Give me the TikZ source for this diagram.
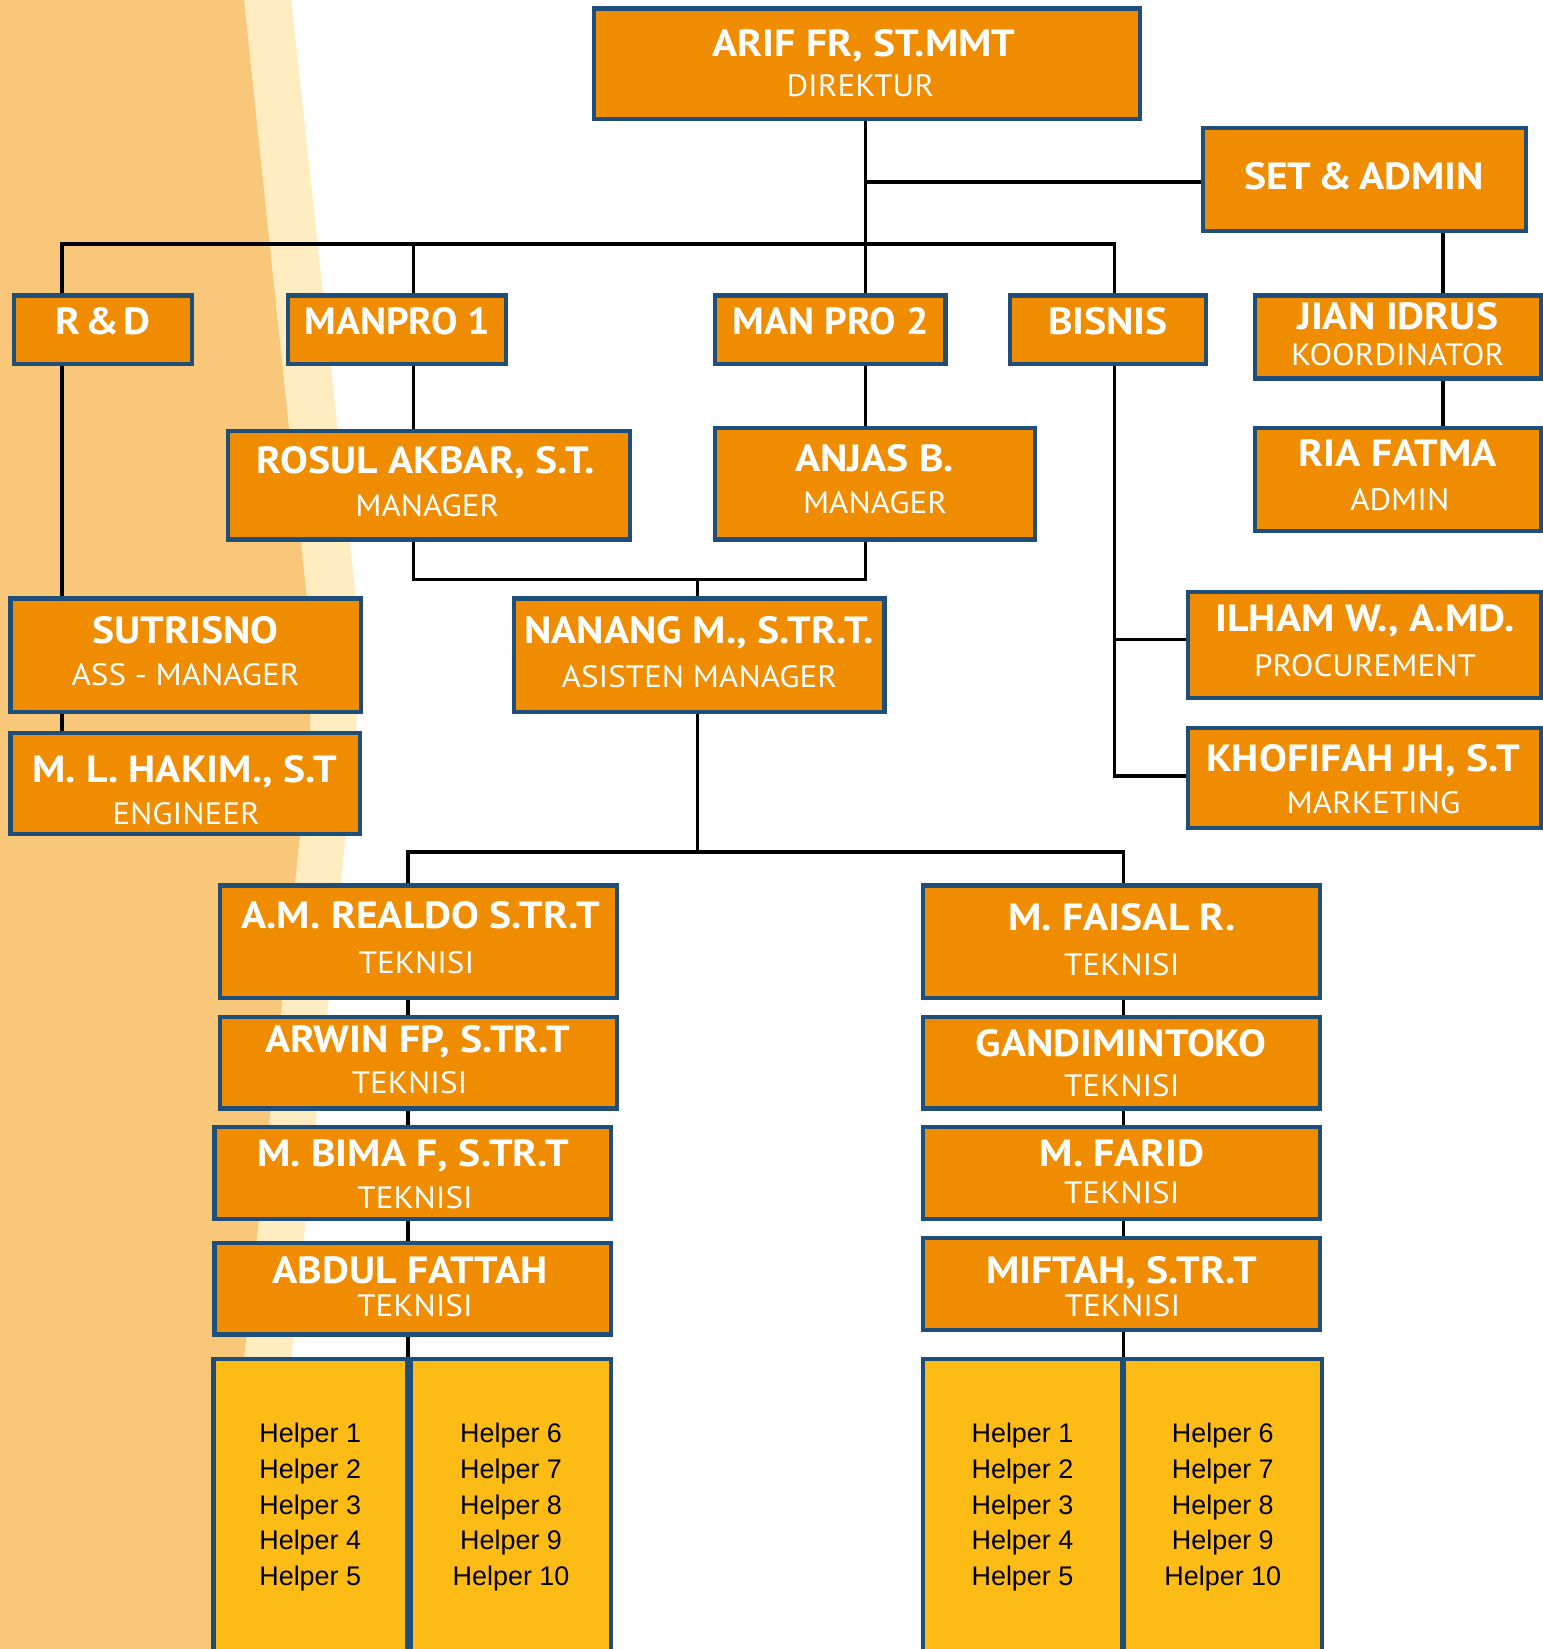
\documentclass[tikz,border=0pt]{standalone}
\usepackage{fontspec}
\setmainfont{PT Sans}[FakeStretch=1.07, BoldFeatures={FakeStretch=1.1}]
\newfontfamily\helperfont{Liberation Sans}
\usetikzlibrary{positioning, calc}
\definecolor{boxorange}{RGB}{240,140,0}
\definecolor{navy}{RGB}{31,78,121}
\definecolor{helperyellow}{RGB}{253,187,22}
\definecolor{wavedark}{RGB}{248,199,122}
\definecolor{wavecream}{RGB}{255,236,192}
\pgfdeclarelayer{bg}
\pgfdeclarelayer{lines}
\pgfsetlayers{bg,lines,main}

\begin{document}
\begin{tikzpicture}[x=0.5pt, y=-0.5pt,
        box/.style={rectangle, draw=navy, line width=2pt, fill=boxorange, inner sep=0pt},
        hbox/.style={rectangle, draw=navy, line width=2pt, fill=helperyellow, inner sep=0pt, align=center, text=black, font=\helperfont\fontsize{12.8}{17.1}\selectfont},
        nm/.style={anchor=base, inner sep=0pt, text=white, font=\bfseries\fontsize{18}{20}\selectfont},
        rl/.style={anchor=base, inner sep=0pt, text=white, font=\fontsize{14.7}{18}\selectfont},
        link/.style={draw=black, line width=1.6pt}]
        \useasboundingbox (0,0) rectangle (1467,1568);

        % background wave
        \begin{pgfonlayer}{bg}
        \fill[white] (0,0) rectangle (1467,1568);
        \fill[wavecream, rounded corners=40pt] (-100,-100) -- (266.2,-100) -- (345.5,634) -- (234.6,1700) -- (-100,1700) -- cycle;
        \fill[wavedark, rounded corners=40pt] (-100,-100) -- (221.5,-100) -- (300.5,652) -- (188.4,1700) -- (-100,1700) -- cycle;
        \end{pgfonlayer}

        % top
        \node[box, minimum width=259.5pt, minimum height=52.5pt] (dir) at (824.5,60.5) {};
        \node[nm] (dirN) at (821.5,53.9) {ARIF FR, ST.MMT};
        \node[rl] (dirR) at (818,91.9) {DIREKTUR};
        \node[box, minimum width=153.5pt, minimum height=49pt] (set) at (1297.5,171) {};
        \node[nm] (setN) at (1297,180.6) {SET\hspace{0.18em}\&\hspace{0.18em}ADMIN};

        % second row
        \node[box, minimum width=84.5pt, minimum height=32.5pt] (rnd) at (98,313.5) {};
        \node[nm] (rndN) at (98,318.5) {R\hspace{0.12em}\&\hspace{0.12em}D};
        \node[box, minimum width=103.5pt, minimum height=32.5pt] (mp1) at (377.5,313.5) {};
        \node[nm, xscale=0.95] (mp1N) at (378,318.5) {MANPRO 1};
        \node[box, minimum width=109.5pt, minimum height=32.5pt] (mp2) at (789.5,313.5) {};
        \node[nm, xscale=0.95] (mp2N) at (790,318.5) {MAN PRO 2};
        \node[box, minimum width=93.5pt, minimum height=32.5pt] (bis) at (1053.5,313.5) {};
        \node[nm] (bisN) at (1053.5,318.5) {BISNIS};
        \node[box, minimum width=136pt, minimum height=39.5pt] (jian) at (1329,320.5) {};
        \node[nm] (jianN) at (1329,312.9) {JIAN IDRUS};
        \node[rl] (jianR) at (1329,347.7) {KOORDINATOR};
        \node[box, minimum width=136pt, minimum height=49pt] (ria) at (1329,456) {};
        \node[nm] (riaN) at (1329,443.7) {RIA FATMA};
        \node[rl] (riaR) at (1331,485.5) {ADMIN};

        % managers
        \node[box, minimum width=191pt, minimum height=51.5pt] (ros) at (408,461.5) {};
        \node[nm] (rosN) at (404.6,450) {ROSUL AKBAR, S.T.};
        \node[rl] (rosR) at (406.4,491.2) {MANAGER};
        \node[box, minimum width=152pt, minimum height=53pt] (anj) at (832,460) {};
        \node[nm] (anjN) at (831.7,448.4) {ANJAS B.};
        \node[rl] (anjR) at (832,488) {MANAGER};
        \node[box, minimum width=166.5pt, minimum height=54pt] (sut) at (176.5,623) {};
        \node[nm] (sutN) at (176.5,612.3) {SUTRISNO};
        \node[rl] (sutR) at (176.5,651.9) {ASS - MANAGER};
        \node[box, minimum width=166pt, minimum height=48pt] (hak) at (176,745) {};
        \node[nm] (hakN) at (176,744.1) {M. L. HAKIM., S.T};
        \node[rl] (hakR) at (177,784.4) {ENGINEER};
        \node[box, minimum width=176pt, minimum height=54pt] (nan) at (665,623) {};
        \node[nm] (nanN) at (664.8,611.6) {NANANG M., S.TR.T.};
        \node[rl] (nanR) at (665,653.5) {ASISTEN MANAGER};
        \node[box, minimum width=167.5pt, minimum height=50.5pt] (ilh) at (1297.5,613.5) {};
        \node[nm] (ilhN) at (1298,600) {ILHAM W., A.MD.};
        \node[rl] (ilhR) at (1298,643.4) {PROCUREMENT};
        \node[box, minimum width=167.5pt, minimum height=47.5pt] (kho) at (1297.5,739.5) {};
        \node[nm] (khoN) at (1296,733.7) {KHOFIFAH JH, S.T};
        \node[rl] (khoR) at (1306,773.3) {MARKETING};

        % teknisi left
        \node[box, minimum width=189pt, minimum height=53.5pt] (rea) at (398,895.5) {};
        \node[nm] (reaN) at (400,883.3) {A.M. REALDO S.TR.T};
        \node[rl] (reaR) at (396,925.7) {TEKNISI};
        \node[box, minimum width=189pt, minimum height=43.5pt] (arw) at (398,1010.5) {};
        \node[nm] (arwN) at (397.3,1000.8) {ARWIN FP, S.TR.T};
        \node[rl] (arwR) at (389.4,1040.2) {TEKNISI};
        \node[box, minimum width=188.5pt, minimum height=43.5pt] (bim) at (392.5,1115.5) {};
        \node[nm] (bimN) at (393,1109.2) {M. BIMA F, S.TR.T};
        \node[rl] (bimR) at (394.7,1149.3) {TEKNISI};
        \node[box, minimum width=188.5pt, minimum height=43.5pt] (abd) at (392.5,1225.5) {};
        \node[nm] (abdN) at (389.8,1220) {ABDUL FATTAH};
        \node[rl] (abdR) at (394.6,1251.9) {TEKNISI};

        % teknisi right
        \node[box, minimum width=188.5pt, minimum height=53.5pt] (fai) at (1066.5,895.5) {};
        \node[nm] (faiN) at (1066.8,884.7) {M. FAISAL R.};
        \node[rl] (faiR) at (1066.6,927.4) {TEKNISI};
        \node[box, minimum width=188.5pt, minimum height=43.5pt] (gan) at (1066.5,1010.5) {};
        \node[nm] (ganN) at (1066,1004.8) {GANDIMINTOKO};
        \node[rl] (ganR) at (1066.6,1042.5) {TEKNISI};
        \node[box, minimum width=188.5pt, minimum height=43.5pt] (far) at (1066.5,1115.5) {};
        \node[nm] (farN) at (1066.8,1109.2) {M. FARID};
        \node[rl] (farR) at (1066.6,1144.2) {TEKNISI};
        \node[box, minimum width=188.5pt, minimum height=44pt] (mif) at (1066.5,1221) {};
        \node[nm] (mifN) at (1066.4,1220) {MIFTAH, S.TR.T};
        \node[rl] (mifR) at (1067.3,1251.9) {TEKNISI};

        % helpers
        \node[hbox, minimum width=92pt, minimum height=141pt] (hlpA) at (295,1433) {Helper 1\\Helper 2\\Helper 3\\Helper 4\\Helper 5};
        \node[hbox, minimum width=95pt, minimum height=141pt] (hlpB) at (486,1433) {Helper 6\\Helper 7\\Helper 8\\Helper 9\\Helper 10};
        \node[hbox, minimum width=94.25pt, minimum height=141pt] (hlpC) at (972.25,1433) {Helper 1\\Helper 2\\Helper 3\\Helper 4\\Helper 5};
        \node[hbox, minimum width=94.25pt, minimum height=141pt] (hlpD) at (1162.75,1433) {Helper 6\\Helper 7\\Helper 8\\Helper 9\\Helper 10};

        % junctions
        \coordinate (trunk) at (823,232);
        \coordinate (setj) at (823,173);
        \coordinate (rndj) at (59,232);
        \coordinate (mp1j) at (393,232);
        \coordinate (bisj) at (1060,232);
        \coordinate (mgr) at (663,551);
        \coordinate (tek) at (663,810);
        \coordinate (tekL) at (388,810);
        \coordinate (tekR) at (1068,810);
        \coordinate (ilhj) at (1060,608);
        \coordinate (khoj) at (1060,738);
        \coordinate (admx) at (1372,400);

        \begin{pgfonlayer}{lines}
        \draw[link] (dir.south -| trunk) -- (mp2.north -| trunk);
        \draw[link] (setj) -- (setj -| set.west);
        \draw[link] (rnd.north -| rndj) -- (rndj) -- (bisj) -- (bis.north -| bisj);
        \draw[link] (mp1j) -- (mp1.north -| mp1j);
        \draw[link] (mp1.south -| mp1j) -- (ros.north -| mp1j);
        \draw[link] (mp2.south -| trunk) -- (anj.north -| trunk);
        \draw[link] (ros.south -| mp1j) |- (mgr) -| (anj.south -| trunk);
        \draw[link] (mgr) -- (nan.north -| mgr);
        \draw[link] (nan.south -| tek) -- (tek);
        \draw[link] (tekL |- hlpA.north) -- (tekL) -- (tekR) -- (tekR |- hlpC.north);
        \draw[link] (rnd.south -| rndj) -- (hak.north -| rndj);
        \draw[link] (bis.south -| bisj) -- (khoj) -- (khoj -| kho.west);
        \draw[link] (ilhj) -- (ilhj -| ilh.west);
        \draw[link] (set.south -| admx) -- (ria.north -| admx);
        \end{pgfonlayer}
\end{tikzpicture}
\end{document}
